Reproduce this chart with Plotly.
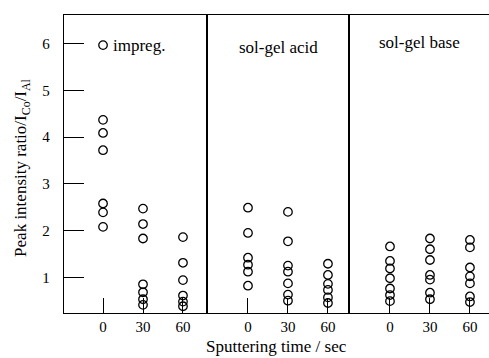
import plotly.graph_objects as go
from plotly.subplots import make_subplots

# Data
groups = ["impreg.", "sol-gel acid", "sol-gel base"]
times = [0, 30, 60]
tick_labels = ["0", "30", "60"]

impreg_0 = [5.97, 4.37, 4.09, 3.72, 2.58, 2.39, 2.08]
impreg_30 = [2.47, 2.14, 1.83, 0.85, 0.68, 0.53, 0.41]
impreg_60 = [1.86, 1.31, 0.94, 0.61, 0.48, 0.38]

acid_0 = [2.49, 1.95, 1.42, 1.27, 1.12, 0.82]
acid_30 = [2.40, 1.77, 1.25, 1.12, 0.87, 0.63, 0.50]
acid_60 = [1.29, 1.05, 0.86, 0.73, 0.57, 0.45]

base_0 = [1.66, 1.35, 1.19, 0.98, 0.76, 0.62, 0.49]
base_30 = [1.83, 1.60, 1.37, 1.05, 0.95, 0.67, 0.53]
base_60 = [1.80, 1.64, 1.21, 1.02, 0.87, 0.59, 0.47]

series = [
    [impreg_0, impreg_30, impreg_60],
    [acid_0, acid_30, acid_60],
    [base_0, base_30, base_60],
]

FONT = "Liberation Serif"

fig = make_subplots(rows=1, cols=3, shared_yaxes=True, horizontal_spacing=0)

for gi, group in enumerate(series):
    for ti, vals in enumerate(group):
        fig.add_trace(
            go.Scatter(
                x=[times[ti]] * len(vals),
                y=vals,
                mode="markers",
                marker=dict(symbol="circle-open", size=8.5, color="black",
                            line=dict(width=1.3, color="black")),
                showlegend=False,
                hoverinfo="skip",
            ),
            row=1, col=gi + 1,
        )

domains = [[0, 0.3376], [0.3376, 0.6706], [0.6706, 1.0]]
ranges = [[-29.3, 78.4], [-30.4, 75.8], [-30.75, 74.3]]

for i in range(3):
    fig.update_xaxes(
        row=1, col=i + 1,
        domain=domains[i], range=ranges[i],
        tickvals=times, ticktext=tick_labels,
        ticks="inside", ticklen=15, tickwidth=1.2, tickcolor="black",
        showline=True, linecolor="black", linewidth=1.3, mirror=True,
        showgrid=False, zeroline=False,
        tickfont=dict(family=FONT, size=15, color="black"),
    )
    fig.update_yaxes(
        row=1, col=i + 1,
        range=[0.236, 6.614],
        showline=True, linecolor="black", linewidth=1.3, mirror=True,
        showgrid=False, zeroline=False,
    )

fig.update_yaxes(
    row=1, col=1,
    tickvals=[1, 2, 3, 4, 5, 6],
    ticks="inside", ticklen=20, tickwidth=1.2, tickcolor="black",
    ticklabelstandoff=10,
    tickfont=dict(family=FONT, size=15, color="black"),
)
for c in (2, 3):
    fig.update_yaxes(row=1, col=c, ticks="", showticklabels=False)

# Panel labels
fig.add_annotation(x=6, y=5.97, xref="x", yref="y", text="impreg.",
                   showarrow=False, xanchor="left", yanchor="middle",
                   font=dict(family=FONT, size=17, color="black"))
fig.add_annotation(x=0.5, y=5.92, xref="x2 domain", yref="y", text="sol-gel acid",
                   showarrow=False, xanchor="center", yanchor="middle",
                   font=dict(family=FONT, size=17, color="black"))
fig.add_annotation(x=0.5, y=6.02, xref="x3 domain", yref="y", text="sol-gel base",
                   showarrow=False, xanchor="center", yanchor="middle",
                   font=dict(family=FONT, size=17, color="black"))

# Axis titles
fig.add_annotation(x=0.5, y=-0.114, xref="paper", yref="paper",
                   text="Sputtering time / sec", showarrow=False,
                   xanchor="center", yanchor="middle",
                   font=dict(family=FONT, size=17, color="black"))
fig.add_annotation(x=-0.099, y=0.49, xref="paper", yref="paper",
                   text="Peak intensity ratio/I<sub>Co</sub>/I<sub>Al</sub>",
                   showarrow=False, textangle=-90,
                   xanchor="center", yanchor="middle",
                   font=dict(family=FONT, size=17, color="black"))

fig.update_layout(
    width=489, height=358,
    margin=dict(l=64, r=0, t=15, b=45),
    paper_bgcolor="white", plot_bgcolor="white",
)

fig.write_html("out.html",
               config={"displayModeBar": False},
               post_script="document.body.style.margin='0';document.body.style.padding='0';")
